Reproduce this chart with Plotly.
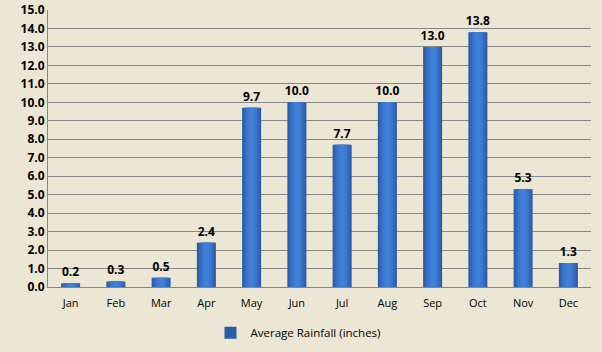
import plotly.graph_objects as go

months = ["Jan", "Feb", "Mar", "Apr", "May", "Jun", "Jul", "Aug", "Sep", "Oct", "Nov", "Dec"]
rainfall = [0.2, 0.3, 0.5, 2.4, 9.7, 10.0, 7.7, 10.0, 13.0, 13.8, 5.3, 1.3]
y_ticks = [i * 1.0 for i in range(16)]

bg = "#EBE7D4"
fig = go.Figure()
# cylinder-like shading: outer dark bar, lighter inner layers
layers = [(0.42, "#2B5CA6"), (0.34, "#3469BA"), (0.24, "#3A76CE"), (0.12, "#3F7FD8")]
for i, (w, c) in enumerate(layers):
    fig.add_trace(go.Bar(
        x=months, y=rainfall, name="Average Rainfall (inches)",
        width=w, showlegend=(i == 0),
        marker=dict(color=c, line=dict(width=0)),
        text=[f"{v:.1f}" for v in rainfall] if i == 0 else None,
        textposition="outside" if i == 0 else "none",
        constraintext="none",
        textfont=dict(family="Open Sans", size=12, color="black", weight="bold"),
        cliponaxis=False, hoverinfo="skip" if i else None,
    ))
fig.update_layout(
    width=602, height=352,
    paper_bgcolor=bg, plot_bgcolor=bg,
    margin=dict(l=48, r=11, t=10, b=65, autoexpand=False),
    barmode="overlay",
    font=dict(family="Open Sans", color="black"),
    showlegend=True,
    legend=dict(orientation="h", x=0.495, xanchor="center", xref="container",
                y=0.055, yanchor="middle", yref="container",
                font=dict(size=11.5), bgcolor="rgba(0,0,0,0)", itemwidth=30),
    xaxis=dict(showline=True, linecolor="#868686", linewidth=1, ticks="",
               tickfont=dict(size=11), showgrid=False, ticklabelstandoff=6,
               automargin=False),
    yaxis=dict(range=[0, 15], tickvals=y_ticks, ticktext=[f"{v:.1f}" for v in y_ticks],
               showline=True, linecolor="#868686", linewidth=1,
               gridcolor="#868686", gridwidth=1, zeroline=False,
               tickfont=dict(size=12, weight="bold"), ticks="", automargin=False),
)
fig.write_html("out.html")
